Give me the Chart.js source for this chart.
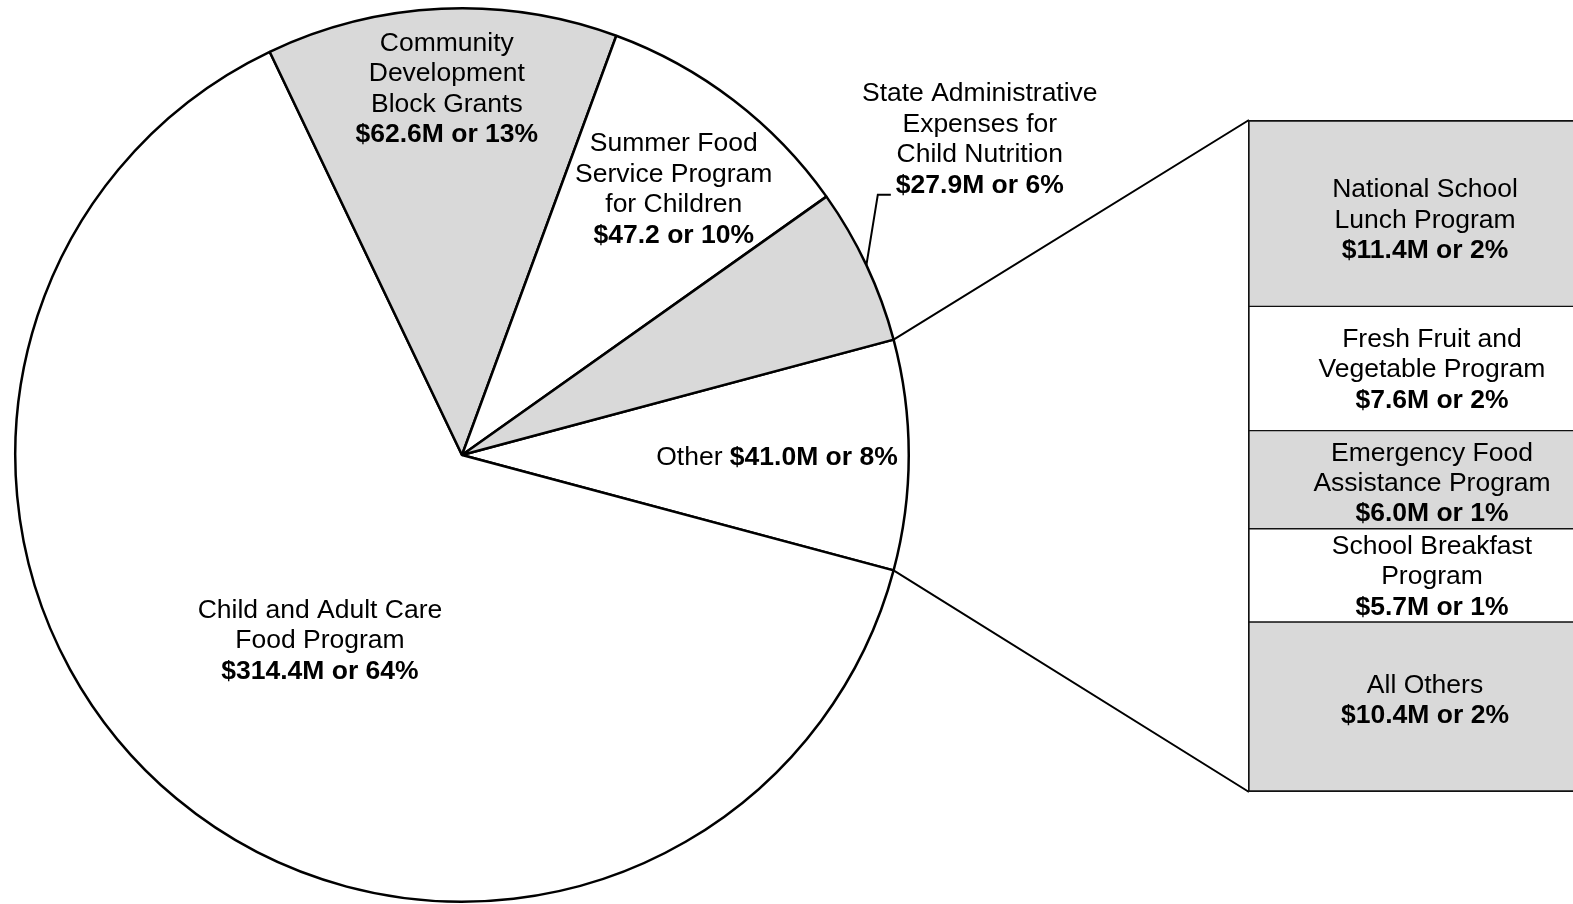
<!DOCTYPE html>
<html><head><meta charset="utf-8">
<script src="https://cdn.jsdelivr.net/npm/chart.js@4/dist/chart.umd.min.js"></script>
<style>
html,body{margin:0;padding:0;background:#fff;overflow:hidden;width:1573px;height:904px;}
#pie{position:absolute;left:0;top:0;}
#bar{position:absolute;left:1248px;top:120px;}
</style></head>
<body>
<canvas id="pie" width="1573" height="904"></canvas>
<canvas id="bar" width="354" height="672"></canvas>
<script>
// ---------- data ----------
const pieCategories = ['Other', 'Child and Adult Care Food Program', 'Community Development Block Grants', 'Summer Food Service Program for Children', 'State Administrative Expenses for Child Nutrition'];
const pieValues = [41.0, 314.4, 62.6, 47.2, 27.9];
const pieNameLines = [['Other'], ['Child and Adult Care', 'Food Program'], ['Community', 'Development', 'Block Grants'], ['Summer Food', 'Service Program', 'for Children'], ['State Administrative', 'Expenses for', 'Child Nutrition']];
const pieValueLabels = ['$41.0M or 8%', '$314.4M or 64%', '$62.6M or 13%', '$47.2 or 10%', '$27.9M or 6%'];

const barCategories = ['National School Lunch Program', 'Fresh Fruit and Vegetable Program', 'Emergency Food Assistance Program', 'School Breakfast Program', 'All Others'];
const barValues = [11.4, 7.6, 6.0, 5.7, 10.4];
const barNameLines = [['National School', 'Lunch Program'], ['Fresh Fruit and', 'Vegetable Program'], ['Emergency Food', 'Assistance Program'], ['School Breakfast', 'Program'], ['All Others']];
const barValueLabels = ['$11.4M or 2%', '$7.6M or 2%', '$6.0M or 1%', '$5.7M or 1%', '$10.4M or 2%'];

// ---------- styles / layout ----------
const GRAY = '#d9d9d9', WHITE = '#ffffff';
const pieColors = [WHITE, WHITE, GRAY, WHITE, GRAY];
const barColors = [GRAY, WHITE, GRAY, WHITE, GRAY];
const FONT_FAMILY = "'Liberation Sans', Arial, sans-serif";
const FS = 26.5, LH = 30.4;
// label anchor offsets relative to pie centre, in units of radius
const pieLabelPos = [
  {dx: 0.705, dy: 0.006, inline: true},
  {dx: -0.318, dy: 0.416},
  {dx: -0.034, dy: -0.819},
  {dx: 0.474, dy: -0.594},
  {dx: 1.159, dy: -0.706, leader: true}
];
const barLabelShiftY = [7, 1.5, 4, 1.5, -6];
const barLabelShiftX = [0, 7, 7, 7, 0];

function drawRuns(ctx, runs, cx, cy) {
  let total = 0;
  const widths = runs.map(([t, b]) => {
    ctx.font = (b ? 'bold ' : '') + FS + 'px ' + FONT_FAMILY;
    const w = ctx.measureText(t).width; total += w; return w;
  });
  let x = cx - total / 2;
  const left = x;
  runs.forEach(([t, b], i) => {
    ctx.font = (b ? 'bold ' : '') + FS + 'px ' + FONT_FAMILY;
    ctx.textAlign = 'left'; ctx.textBaseline = 'middle'; ctx.fillStyle = '#000';
    ctx.fillText(t, x, cy);
    x += widths[i];
  });
  return {left, width: total};
}
function drawBlock(ctx, lines, cx, cy) {
  const n = lines.length, res = [];
  lines.forEach((runs, i) => {
    const y = cy + (i - (n - 1) / 2) * LH;
    res.push(Object.assign(drawRuns(ctx, runs, cx, y), {y}));
  });
  return res;
}

// ---------- bar (breakdown of "Other") ----------
const barTotal = barValues.reduce((a, b) => a + b, 0);
const barLabelPlugin = {
  id: 'barLabels',
  afterDatasetsDraw(chart) {
    const ctx = chart.ctx;
    ctx.save();
    barValues.forEach((v, i) => {
      const el = chart.getDatasetMeta(i).data[0];
      const p = el.getProps(['x', 'y', 'base'], true);
      const cy = (p.y + p.base) / 2 + barLabelShiftY[i];
      const lines = barNameLines[i].map(t => [[t, false]]).concat([[[barValueLabels[i], true]]]);
      drawBlock(ctx, lines, p.x + barLabelShiftX[i], cy);
    });
    ctx.restore();
  }
};
const barChart = new Chart(document.getElementById('bar'), {
  type: 'bar',
  data: {
    labels: [''],
    datasets: barValues.map((v, i) => ({
      label: barCategories[i],
      data: [v],
      backgroundColor: barColors[i],
      borderColor: '#111',
      borderWidth: {top: i === 0 ? 2 : 1, bottom: i === barValues.length - 1 ? 2 : 1, left: 2, right: 2},
      borderSkipped: false,
      barPercentage: 1,
      categoryPercentage: 1
    }))
  },
  options: {
    responsive: false, animation: false, events: [],
    layout: {padding: 0},
    plugins: {legend: {display: false}, tooltip: {enabled: false}},
    scales: {
      x: {display: false, stacked: true},
      y: {display: false, stacked: true, min: 0, max: barTotal, reverse: true}
    }
  },
  plugins: [barLabelPlugin]
});

// ---------- pie ----------
const pieTotal = pieValues.reduce((a, b) => a + b, 0);
const otherSweep = pieValues[0] / pieTotal * 360;
const pieDecor = {
  id: 'pieDecor',
  afterDatasetsDraw(chart) {
    const ctx = chart.ctx;
    const meta = chart.getDatasetMeta(0);
    const a0 = meta.data[0].getProps(['x', 'y', 'outerRadius', 'startAngle', 'endAngle'], true);
    const cx = a0.x, cy = a0.y, R = a0.outerRadius;
    ctx.save();
    // connectors from "Other" slice to breakdown bar
    const bc = document.getElementById('bar');
    const first = barChart.getDatasetMeta(0).data[0].getProps(['x', 'y', 'base', 'width'], true);
    const last = barChart.getDatasetMeta(barValues.length - 1).data[0].getProps(['x', 'y', 'base', 'width'], true);
    const bx = bc.offsetLeft + first.x - first.width / 2;
    const bTop = bc.offsetTop + Math.min(first.y, first.base);
    const bBot = bc.offsetTop + Math.max(last.y, last.base);
    ctx.strokeStyle = '#000'; ctx.lineWidth = 2;
    ctx.beginPath();
    ctx.moveTo(cx + R * Math.cos(a0.startAngle), cy + R * Math.sin(a0.startAngle));
    ctx.lineTo(bx + 1, bTop);
    ctx.moveTo(cx + R * Math.cos(a0.endAngle), cy + R * Math.sin(a0.endAngle));
    ctx.lineTo(bx + 1, bBot);
    ctx.stroke();
    // labels
    pieValues.forEach((v, i) => {
      const pos = pieLabelPos[i];
      const lx = cx + pos.dx * R, ly = cy + pos.dy * R;
      let lines;
      if (pos.inline) lines = [[[pieNameLines[i][0] + ' ', false], [pieValueLabels[i], true]]];
      else lines = pieNameLines[i].map(t => [[t, false]]).concat([[[pieValueLabels[i], true]]]);
      const res = drawBlock(ctx, lines, lx, ly);
      if (pos.leader) {
        const a = meta.data[i].getProps(['startAngle', 'endAngle'], true);
        const mid = (a.startAngle + a.endAngle) / 2;
        const L = res[res.length - 1];
        const yy = L.y + 9.5;
        ctx.beginPath();
        ctx.lineWidth = 2;
        ctx.moveTo(cx + R * Math.cos(mid), cy + R * Math.sin(mid));
        ctx.lineTo(L.left - 18, yy);
        ctx.lineTo(L.left - 5, yy);
        ctx.stroke();
      }
    });
    ctx.restore();
  }
};
new Chart(document.getElementById('pie'), {
  type: 'pie',
  data: {
    labels: pieCategories,
    datasets: [{
      data: pieValues,
      backgroundColor: pieColors,
      borderColor: '#000',
      borderWidth: 2.5
    }]
  },
  options: {
    responsive: false, animation: false, events: [],
    rotation: 90 - otherSweep / 2,
    layout: {padding: {left: 14, top: 7, right: 663, bottom: 1}},
    plugins: {legend: {display: false}, tooltip: {enabled: false}}
  },
  plugins: [pieDecor]
});
</script>
</body></html>
